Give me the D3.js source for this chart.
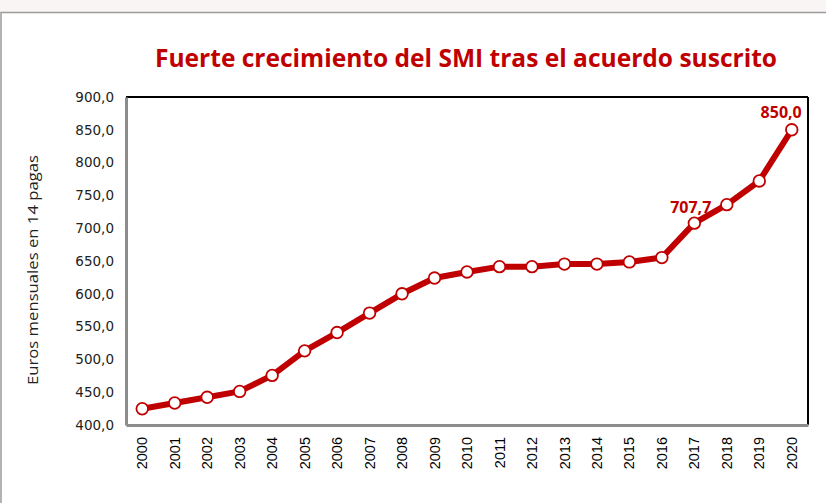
<!DOCTYPE html>
<html>
<head>
<meta charset="utf-8">
<title>SMI</title>
<script src="https://cdn.jsdelivr.net/npm/d3@7"></script>
<style>
  body { margin: 0; background: #fff; }
  svg { display: block; }
</style>
</head>
<body>
<div id="chart"></div>
<script>
// years and monthly minimum wage (14 payments)
var years = ["2000","2001","2002","2003","2004","2005","2006","2007","2008","2009","2010",
             "2011","2012","2013","2014","2015","2016","2017","2018","2019","2020"];
var smi = [424.8, 433.5, 442.2, 451.2, 475.6, 513.0, 540.9, 570.6, 600.0, 624.0, 633.3,
           641.4, 641.4, 645.3, 645.3, 648.6, 655.2, 707.7, 735.9, 772.0, 850.0];
var yTicks = [400, 450, 500, 550, 600, 650, 700, 750, 800, 850, 900];
var labelled = ["2017", "2020"];

var W = 826, H = 503;
var pLeft = 126, pRight = 808, pTop = 97, pBottom = 425;
var red = "#c00000";
var fmt = function (v) { return d3.format(".1f")(v).replace(".", ","); };
// where each value label sits relative to its point
var labelShift = { "2017": [17, -10], "2020": [10, -12] };

var svg = d3.select("#chart").append("svg").attr("width", W).attr("height", H);

// top strip + outer frame
svg.append("rect").attr("x", 0).attr("y", 0).attr("width", W).attr("height", 12).attr("fill", "#f8f5f4");
svg.append("rect").attr("x", 1).attr("y", 12.5).attr("width", W + 5).attr("height", H)
  .attr("fill", "#fff").attr("stroke", "#9a9a9a").attr("stroke-width", 1.5);

var x = d3.scaleBand().domain(years).range([pLeft, pRight]);
var y = d3.scaleLinear().domain([400, 900]).range([pBottom, pTop]);

// title
svg.append("text").attr("x", 466).attr("y", 67).attr("text-anchor", "middle")
  .attr("textLength", 622).attr("lengthAdjust", "spacingAndGlyphs")
  .style("font-family", "'Open Sans', sans-serif").style("font-weight", "bold")
  .style("font-size", "25px").attr("fill", red)
  .text("Fuerte crecimiento del SMI tras el acuerdo suscrito");

// plot frame: black top/right, grey left/bottom
svg.append("line").attr("x1", pLeft).attr("x2", pRight).attr("y1", pTop).attr("y2", pTop)
  .attr("stroke", "#000").attr("stroke-width", 2);
svg.append("line").attr("x1", pRight).attr("x2", pRight).attr("y1", pTop).attr("y2", pBottom)
  .attr("stroke", "#000").attr("stroke-width", 2);

// y axis
var yAxis = svg.append("g").attr("transform", "translate(" + pLeft + ",0)")
  .call(d3.axisLeft(y).tickValues(yTicks).tickSize(0).tickPadding(12).tickFormat(fmt));
yAxis.select(".domain").attr("stroke", "#8c8c8c").attr("stroke-width", 3);
yAxis.selectAll("text").style("font-family", "'DejaVu Sans', sans-serif")
  .style("font-size", "13.5px").attr("fill", "#222");

// x axis
var xAxis = svg.append("g").attr("transform", "translate(0," + pBottom + ")")
  .call(d3.axisBottom(x).tickSize(0));
xAxis.select(".domain").attr("stroke", "#8c8c8c").attr("stroke-width", 3);
xAxis.selectAll("text")
  .attr("transform", "rotate(-90)").attr("x", -12).attr("y", 0).attr("dy", "0.35em")
  .attr("text-anchor", "end")
  .style("font-family", "'Liberation Sans', Arial, sans-serif")
  .style("font-size", "14.5px").attr("fill", "#000");

// y axis title
svg.append("text").attr("transform", "translate(38,270) rotate(-90)")
  .attr("text-anchor", "middle").attr("textLength", 230).attr("lengthAdjust", "spacingAndGlyphs")
  .style("font-family", "'Open Sans', sans-serif").style("font-size", "14px").attr("fill", "#222")
  .text("Euros mensuales en 14 pagas");

var cx = function (d, i) { return x(years[i]) + x.bandwidth() / 2; };

// line
svg.append("path").datum(smi)
  .attr("d", d3.line().x(cx).y(function (d) { return y(d); }))
  .attr("fill", "none").attr("stroke", red).attr("stroke-width", 6).attr("stroke-linejoin", "round");

// markers
svg.selectAll("circle.pt").data(smi).enter().append("circle").attr("class", "pt")
  .attr("cx", cx).attr("cy", function (d) { return y(d); }).attr("r", 5.8)
  .attr("fill", "#fff").attr("stroke", red).attr("stroke-width", 1.8);

// value labels
smi.forEach(function (v, i) {
  if (labelled.indexOf(years[i]) < 0) return;
  var s = labelShift[years[i]];
  svg.append("text").attr("x", cx(v, i) + s[0]).attr("y", y(v) + s[1]).attr("text-anchor", "end")
    .style("font-family", "'Open Sans', sans-serif").style("font-weight", "bold")
    .style("font-size", "16px").attr("fill", red).text(fmt(v));
});
</script>
</body>
</html>
